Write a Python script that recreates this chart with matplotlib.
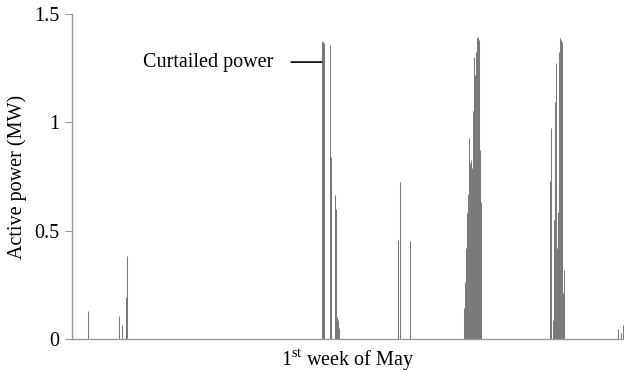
import matplotlib
matplotlib.use("Agg")
import matplotlib.pyplot as plt

plt.rcParams['font.family'] = ['Liberation Serif', 'DejaVu Serif']
plt.rcParams['mathtext.fontset'] = 'custom'
plt.rcParams['mathtext.rm'] = 'Liberation Serif'

# curtailed power spikes over the first week of May (hour of week, MW)
spike_hours = [
    5.0, 14.4, 15.3, 16.5, 16.8,
    76.0, 76.4, 76.7, 78.5, 78.7, 78.9, 80.1, 80.3, 80.7, 81.0, 81.3,
    99.3, 99.9, 103.0,
    119.4, 119.7, 120.0, 120.3, 120.6, 120.9, 121.2, 121.5, 121.8,
    122.1, 122.4, 122.7, 123.0, 123.3, 123.6, 123.9, 124.2, 124.5,
    145.6, 145.9, 146.5, 146.8, 147.1, 147.2, 147.4, 147.7, 148.0,
    148.3, 148.6, 148.9, 149.2, 149.5, 149.8,
    166.1, 167.2, 167.8,
]
spike_power = [
    0.13, 0.106, 0.065, 0.195, 0.383,
    1.377, 1.37, 1.365, 1.357, 0.84, 0.726, 0.665, 0.60, 0.10, 0.088, 0.05,
    0.457, 0.726, 0.452,
    0.143, 0.265, 0.42, 0.58, 0.67, 0.926, 0.81, 0.826, 0.79,
    1.05, 1.30, 1.218, 1.326, 1.388, 1.392, 1.38, 0.872, 0.634,
    0.73, 0.972, 0.088, 0.55, 1.095, 1.272, 0.726, 0.42, 0.587,
    1.326, 1.388, 1.38, 1.372, 0.212, 0.318,
    0.046, 0.03, 0.065,
]
y_ticks = [0, 0.5, 1, 1.5]
y_tick_labels = ["0", "0.5", "1", "1.5"]

fig = plt.figure(figsize=(6.24, 3.72), dpi=100)
ax = fig.add_axes([0.1154, 0.0887, 0.8846, 0.8737])

ax.vlines(spike_hours, 0, spike_power, color="#7a7a7a", linewidth=0.75)

ax.set_xlim(0, 168)
ax.set_ylim(0, 1.5)
ax.set_yticks(y_ticks)
ax.set_yticklabels(y_tick_labels)
ax.set_xticks([])

for side in ["top", "right"]:
    ax.spines[side].set_visible(False)
for side in ["left", "bottom"]:
    ax.spines[side].set_color("#999999")
    ax.spines[side].set_linewidth(1.0)
ax.tick_params(axis="y", direction="out", length=5, color="#999999",
               labelsize=14.5, pad=4)

ax.set_ylabel("Active power (MW)", fontsize=14.5, labelpad=5)
ax.set_xlabel(r"1$^{\mathrm{st}}$ week of May", fontsize=14.5, labelpad=6)

# annotation pointing to the first curtailed peak
ax.annotate("Curtailed power", xy=(76.0, 1.278), xytext=(61.2, 1.278),
            fontsize=14.5, ha="right", va="center",
            arrowprops=dict(arrowstyle="-", color="black", linewidth=1.2,
                            shrinkA=11, shrinkB=0))

fig.savefig("out.png", dpi=100)
